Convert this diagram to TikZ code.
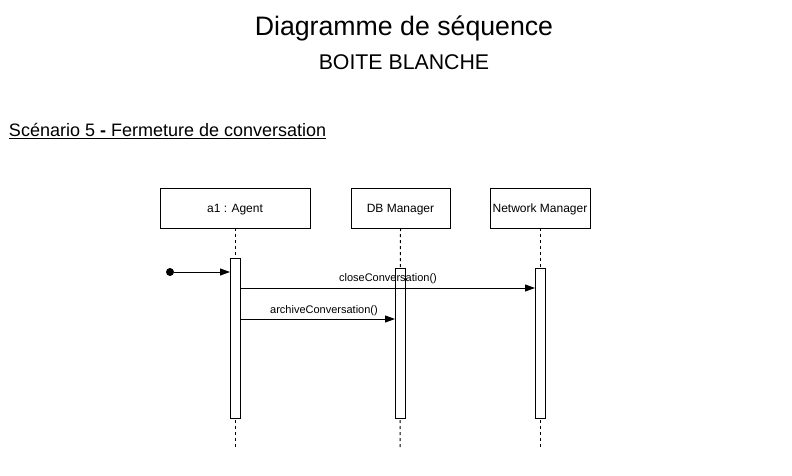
\documentclass[tikz,border=0pt]{standalone}
\usepackage{fontspec}
\setmainfont{Liberation Sans}
\usetikzlibrary{arrows.meta}
\begin{document}
\begin{tikzpicture}[x=1pt,y=-1pt,
  every node/.style={inner sep=0pt, outer sep=0pt},
  objbox/.style={draw, line width=1pt, fill=white, minimum width=#1, minimum height=40pt, text height=8.6pt, text depth=0pt, font=\fontsize{12}{14}\selectfont},
  actbox/.style={draw, line width=1pt, fill=white, minimum width=10pt, anchor=north},
  lifeline/.style={line width=1pt, dash pattern=on 3pt off 3pt},
  msg/.style={line width=1pt, -{Triangle[length=10pt,width=7pt]}},
  msglabel/.style={font=\fontsize{11}{13}\selectfont, text height=7.9pt, text depth=0pt}
]
\useasboundingbox (0,0) rectangle (792,476);
\fill[white] (0,0) rectangle (792,476);

\node (title) at (404,28) {\fontsize{26.7}{30}\selectfont Diagramme de séquence};
\node (subtitle) at (404,62) {\fontsize{21.3}{24}\selectfont BOITE BLANCHE};
\node[anchor=west] (scen) at (9,131) {\fontsize{18}{21}\selectfont \underline{Scénario 5 \textbf{-} Fermeture de conversation}};

\node[objbox=150pt] (agent) at (235,208) {a1 : Agent};
\node[objbox=99pt] (db) at (400.5,208) {DB Manager};
\node[objbox=100pt] (net) at (540,208) {Network Manager};

\coordinate (agentend) at (235,447);
\coordinate (dbend) at (400,447);
\coordinate (netend) at (540,447);
\draw[lifeline] (agent.south) -- (agentend);
\draw[lifeline] (db.south) -- (dbend);
\draw[lifeline] (net.south) -- (netend);

\node[actbox, minimum height=160pt] (act1) at (235,258) {};
\node[actbox, minimum height=150pt] (act2) at (400,268) {};
\node[actbox, minimum height=150pt] (act3) at (540,268) {};

\node[circle, fill=black, minimum size=8pt] (start) at (170,272) {};
\coordinate (in1) at (230,272);
\draw[msg] (start) -- (in1);

\coordinate (c1) at (240,288);
\coordinate (c2) at (535,288);
\draw[msg] (c1) -- (c2);
\node[msglabel] (lclose) at (388,278) {closeConversation()};

\coordinate (a1) at (240,319);
\coordinate (a2) at (395,319);
\draw[msg] (a1) -- (a2);
\node[msglabel] (larch) at (324,310) {archiveConversation()};
\end{tikzpicture}
\end{document}
